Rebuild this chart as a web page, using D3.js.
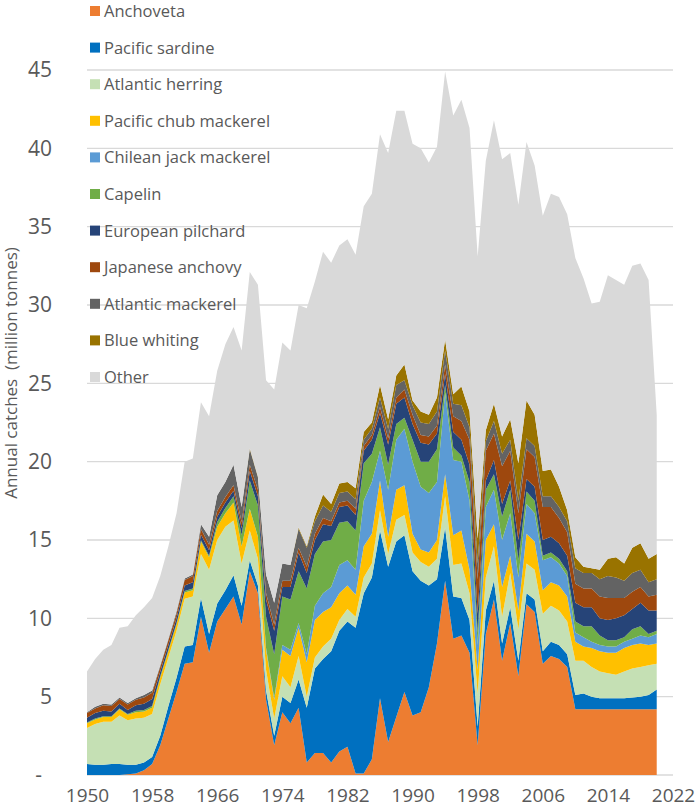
<!DOCTYPE html>
<html>
<head>
<meta charset="utf-8">
<script src="https://cdn.jsdelivr.net/npm/d3@7"></script>
<style>
  html, body { margin: 0; padding: 0; background: #ffffff; }
  svg { display: block; }
  text { font-family: "Open Sans", "Noto Sans", sans-serif; fill: #595959; }
</style>
</head>
<body>
<svg id="chart" width="696" height="810"></svg>
<script>
const years = d3.range(1950, 2021);

const seriesNames = ["Anchoveta", "Pacific sardine", "Atlantic herring", "Pacific chub mackerel",
  "Chilean jack mackerel", "Capelin", "European pilchard", "Japanese anchovy",
  "Atlantic mackerel", "Blue whiting", "Other"];

const seriesColors = ["#ED7D31", "#0070C0", "#C5E0B4", "#FFC000", "#5B9BD5", "#70AD47",
  "#264478", "#9E480E", "#636363", "#997300", "#D9D9D9"];

const xTickLabels = [1950, 1958, 1966, 1974, 1982, 1990, 1998, 2006, 2014, 2022];
const yTickLabels = [0, 5, 10, 15, 20, 25, 30, 35, 40, 45];

// million tonnes, 1950..2020
const anchoveta = [0,0,0,0,0,0.05,0.1,0.3,0.7,1.9, 3.6,5.3,7.1,7.2,10.1,7.8,9.8,10.6,11.4,9.6,
  13.0,11.6,4.8,1.9,4.0,3.3,4.3,0.8,1.4,1.4, 0.8,1.5,1.8,0.1,0.1,1.0,4.9,2.1,3.7,5.3,
  3.8,4.0,5.6,8.4,12.4,8.7,8.9,7.8,1.9,9.0, 11.2,7.3,9.7,6.3,10.9,10.4,7.1,7.6,7.4,6.9,
  4.2,4.2,4.2,4.2,4.2,4.2,4.2,4.2,4.2,4.2,4.2];
const pacificSardine = [0.7,0.65,0.65,0.7,0.7,0.6,0.55,0.5,0.45,0.6, 0.8,0.9,1.1,1.1,1.2,1.2,1.15,1.2,1.35,1.2,
  0.7,0.5,0.6,0.6,1.0,1.3,1.8,3.5,5.4,6.0, 7.1,7.7,8.0,9.3,11.5,11.6,10.7,11.2,11.2,10.0,
  9.2,8.4,6.5,4.1,3.4,2.7,2.4,2.1,1.2,1.5, 1.2,1.1,1.0,1.0,0.7,0.8,0.8,0.9,0.9,0.8,
  0.9,1.0,0.8,0.7,0.7,0.7,0.7,0.75,0.8,0.9,1.25];
const atlanticHerring = [2.3,2.6,2.75,2.7,3.1,2.85,2.95,2.85,2.75,3.3, 3.1,3.0,3.05,3.1,2.8,4.1,4.05,4.05,3.5,2.7,
  1.9,1.7,1.3,1.1,1.3,1.0,1.5,0.7,0.7,0.8, 0.8,0.7,0.8,0.7,1.0,0.9,1.3,0.8,1.4,1.3,
  1.2,1.2,1.2,1.3,2.0,2.0,2.2,1.7,2.1,2.1, 2.2,1.7,2.2,2.0,1.9,1.9,2.4,2.3,2.2,2.1,
  2.2,2.1,1.9,1.7,1.6,1.5,1.7,1.85,1.9,1.9,1.65];
const pacificChubMackerel = [0.3,0.3,0.3,0.3,0.4,0.35,0.4,0.4,0.4,0.4, 0.4,0.4,0.4,0.4,0.8,0.8,0.85,0.85,1.15,1.1,
  1.4,1.4,1.3,1.2,1.7,2.0,1.8,2.2,2.4,2.2, 2.0,1.7,1.5,1.4,2.0,1.9,1.9,1.1,1.9,1.9,
  1.2,0.8,0.9,1.2,1.4,1.9,2.1,1.5,1.5,2.4, 1.4,1.9,1.1,1.2,1.9,1.8,1.5,1.5,1.6,1.6,
  1.2,0.9,1.2,1.3,1.3,1.4,1.5,1.5,1.5,1.3,1.3];
const chileanJackMackerel = [0,0,0,0,0,0,0,0,0,0, 0,0,0,0,0,0,0,0,0,0,
  0,0,0.1,0.1,0.3,0.4,0.3,0.5,0.9,1.2, 1.3,1.8,1.6,1.6,2.9,3.3,1.9,3.0,3.2,3.6,
  4.6,4.0,3.8,3.7,5.2,4.8,4.4,4.4,1.6,2.1, 2.2,3.0,2.7,2.1,1.9,1.8,1.9,1.6,1.4,1.3,
  0.6,0.6,0.4,0.4,0.4,0.4,0.4,0.4,0.5,0.5,0.6];
const capelin = [0.05,0.05,0.05,0.05,0.05,0.05,0.1,0.1,0.1,0.1, 0.1,0.1,0.1,0.1,0.1,0.1,0.3,0.35,0.4,0.7,
  1.8,2.0,2.0,2.8,3.1,3.2,3.3,4.2,3.3,3.3, 3.0,2.7,2.5,2.5,2.4,1.8,1.5,1.6,1.0,0.7,
  1.4,1.6,2.0,2.1,0.5,0.8,0.4,1.2,0.8,1.1, 1.0,1.5,1.5,1.1,0.8,0.8,0.3,0.3,0.3,0.3,
  0.7,0.7,1.0,0.6,0.4,0.4,0.3,0.6,0.6,0.2,0.2];
const europeanPilchard = [0.3,0.35,0.35,0.3,0.3,0.25,0.35,0.4,0.45,0.3, 0.3,0.3,0.35,0.4,0.35,0.35,0.35,0.35,0.35,0.45,
  0.6,0.6,1.1,1.5,0.6,0.8,1.2,1.0,0.9,1.1, 0.9,1.0,1.0,1.0,0.8,0.9,0.9,1.3,1.3,1.3,
  1.0,1.2,1.1,1.0,0.7,1.0,1.0,1.1,1.2,0.6, 0.9,0.8,0.6,1.3,0.8,0.9,1.0,1.0,1.0,1.0,
  1.2,1.2,1.2,1.1,1.3,1.4,1.4,1.3,1.5,1.5,1.3];
const japaneseAnchovy = [0.3,0.3,0.35,0.35,0.3,0.35,0.35,0.4,0.4,0.3, 0.3,0.3,0.35,0.4,0.35,0.35,0.35,0.35,0.35,0.4,
  0.4,0.4,0.4,0.4,0.4,0.4,0.3,0.4,0.4,0.4, 0.3,0.3,0.3,0.4,0.3,0.3,0.4,0.4,0.4,0.5,
  0.6,0.5,0.5,0.5,0.6,1.0,1.2,1.6,2.2,1.9, 1.7,2.4,1.9,1.7,1.9,1.9,2.1,1.9,1.6,1.5,
  1.2,1.2,1.2,1.4,1.4,1.3,1.1,1.1,1.0,0.9,1.0];
const atlanticMackerel = [0.05,0.1,0.1,0.1,0.1,0.1,0.1,0.15,0.15,0.1, 0.1,0.15,0.1,0.1,0.3,0.5,1.0,0.95,1.3,0.95,
  1.0,0.8,1.2,1.4,1.1,1.0,1.2,1.2,0.8,0.8, 0.6,0.6,0.6,0.6,0.4,0.4,0.6,0.6,0.8,0.6,
  0.6,0.8,0.8,0.9,0.9,0.8,1.0,0.8,1.0,0.6, 0.8,0.8,0.7,0.8,0.7,0.7,0.7,0.7,0.7,0.7,
  1.0,1.0,1.0,1.1,1.4,1.3,1.1,1.2,1.1,0.9,1.0];
const blueWhiting = [0,0,0,0,0,0,0,0,0,0, 0,0,0,0,0,0,0,0,0,0,
  0.05,0.05,0,0,0,0,0.1,0.1,0.3,0.7, 0.5,0.6,0.6,0.7,0.5,0.4,0.8,0.6,0.6,1.0,
  0.3,0.7,0.6,0.9,0.7,0.6,1.2,1.0,1.6,0.7, 1.1,1.1,1.3,2.4,2.4,2.0,1.6,1.7,1.3,0.7,
  0.7,0.4,0.3,0.6,1.1,1.3,1.1,1.6,1.7,1.5,1.6];
const other = [2.6,3.05,3.45,3.8,4.45,4.9,5.3,5.6,5.9,5.7, 5.9,6.25,7.45,7.4,7.8,7.7,7.95,8.8,8.8,10.0,
  11.25,12.25,12.4,13.6,14.1,13.7,14.2,15.2,15.0,15.5, 15.4,15.2,15.5,14.9,14.4,14.6,16.0,17.0,16.9,16.2,
  16.4,16.8,16.1,16.0,17.1,17.8,18.3,18.1,18.0,17.2, 18.1,17.7,17.0,16.5,16.5,15.9,16.3,17.6,18.5,18.9,
  19.1,18.4,16.9,17.1,18.1,17.7,17.8,18.0,17.85,17.8,8.9];

const seriesValues = [anchoveta, pacificSardine, atlanticHerring, pacificChubMackerel,
  chileanJackMackerel, capelin, europeanPilchard, japaneseAnchovy, atlanticMackerel,
  blueWhiting, other];

const table = years.map((yr, i) => {
  const row = { year: yr };
  seriesNames.forEach((name, k) => { row[name] = seriesValues[k][i]; });
  return row;
});

const svg = d3.select("#chart");
const plot = { left: 87, right: 673, top: 70, bottom: 775 };

const x = d3.scaleLinear().domain([1950, 2022]).range([plot.left, plot.right]);
const y = d3.scaleLinear().domain([0, 45]).range([plot.bottom, plot.top]);

// gridlines
svg.append("g").selectAll("line")
  .data(yTickLabels)
  .join("line")
  .attr("x1", plot.left).attr("x2", plot.right)
  .attr("y1", d => y(d)).attr("y2", d => y(d))
  .attr("stroke", "#d9d9d9").attr("stroke-width", 1.3);

// stacked areas
const stack = d3.stack().keys(seriesNames);
const layers = stack(table);
const area = d3.area()
  .x(d => x(d.data.year))
  .y0(d => y(d[0]))
  .y1(d => y(d[1]));

svg.append("g").selectAll("path")
  .data(layers)
  .join("path")
  .attr("fill", (d, i) => seriesColors[i])
  .attr("d", area);

// y axis labels
const yAxis = d3.axisLeft(y)
  .tickValues(yTickLabels)
  .tickFormat(d => d === 0 ? "-" : d)
  .tickSize(0)
  .tickPadding(35);
const gy = svg.append("g").attr("transform", `translate(${plot.left},0)`).call(yAxis);
gy.select(".domain").remove();
gy.selectAll("text")
  .style("font-family", '"Open Sans", "Noto Sans", sans-serif')
  .style("font-size", "21px")
  .attr("fill", "#595959")
  .attr("dx", d => d === 0 ? "-10px" : 0);

// x axis labels
const xAxis = d3.axisBottom(x)
  .tickValues(xTickLabels)
  .tickFormat(d => d)
  .tickSize(0)
  .tickPadding(14);
const gx = svg.append("g").attr("transform", `translate(0,${plot.bottom})`).call(xAxis);
gx.select(".domain").remove();
gx.selectAll("text")
  .style("font-family", '"Open Sans", "Noto Sans", sans-serif')
  .style("font-size", "19px")
  .attr("fill", "#595959");

// y axis title
svg.append("text")
  .attr("transform", "translate(17,373) rotate(-90)")
  .attr("text-anchor", "middle")
  .style("font-size", "17px")
  .style("white-space", "pre")
  .attr("xml:space", "preserve")
  .text("Annual catches  (million tonnes)");

// legend
const legend = svg.append("g");
const legendRows = legend.selectAll("g")
  .data(seriesNames)
  .join("g")
  .attr("transform", (d, i) => `translate(90,${11 + i * 36.6})`);
legendRows.append("rect")
  .attr("x", 0).attr("y", -5)
  .attr("width", 10).attr("height", 10)
  .attr("fill", (d, i) => seriesColors[i]);
legendRows.append("text")
  .attr("x", 14).attr("y", 6)
  .style("font-size", "16.5px")
  .text(d => d);
</script>
</body>
</html>
